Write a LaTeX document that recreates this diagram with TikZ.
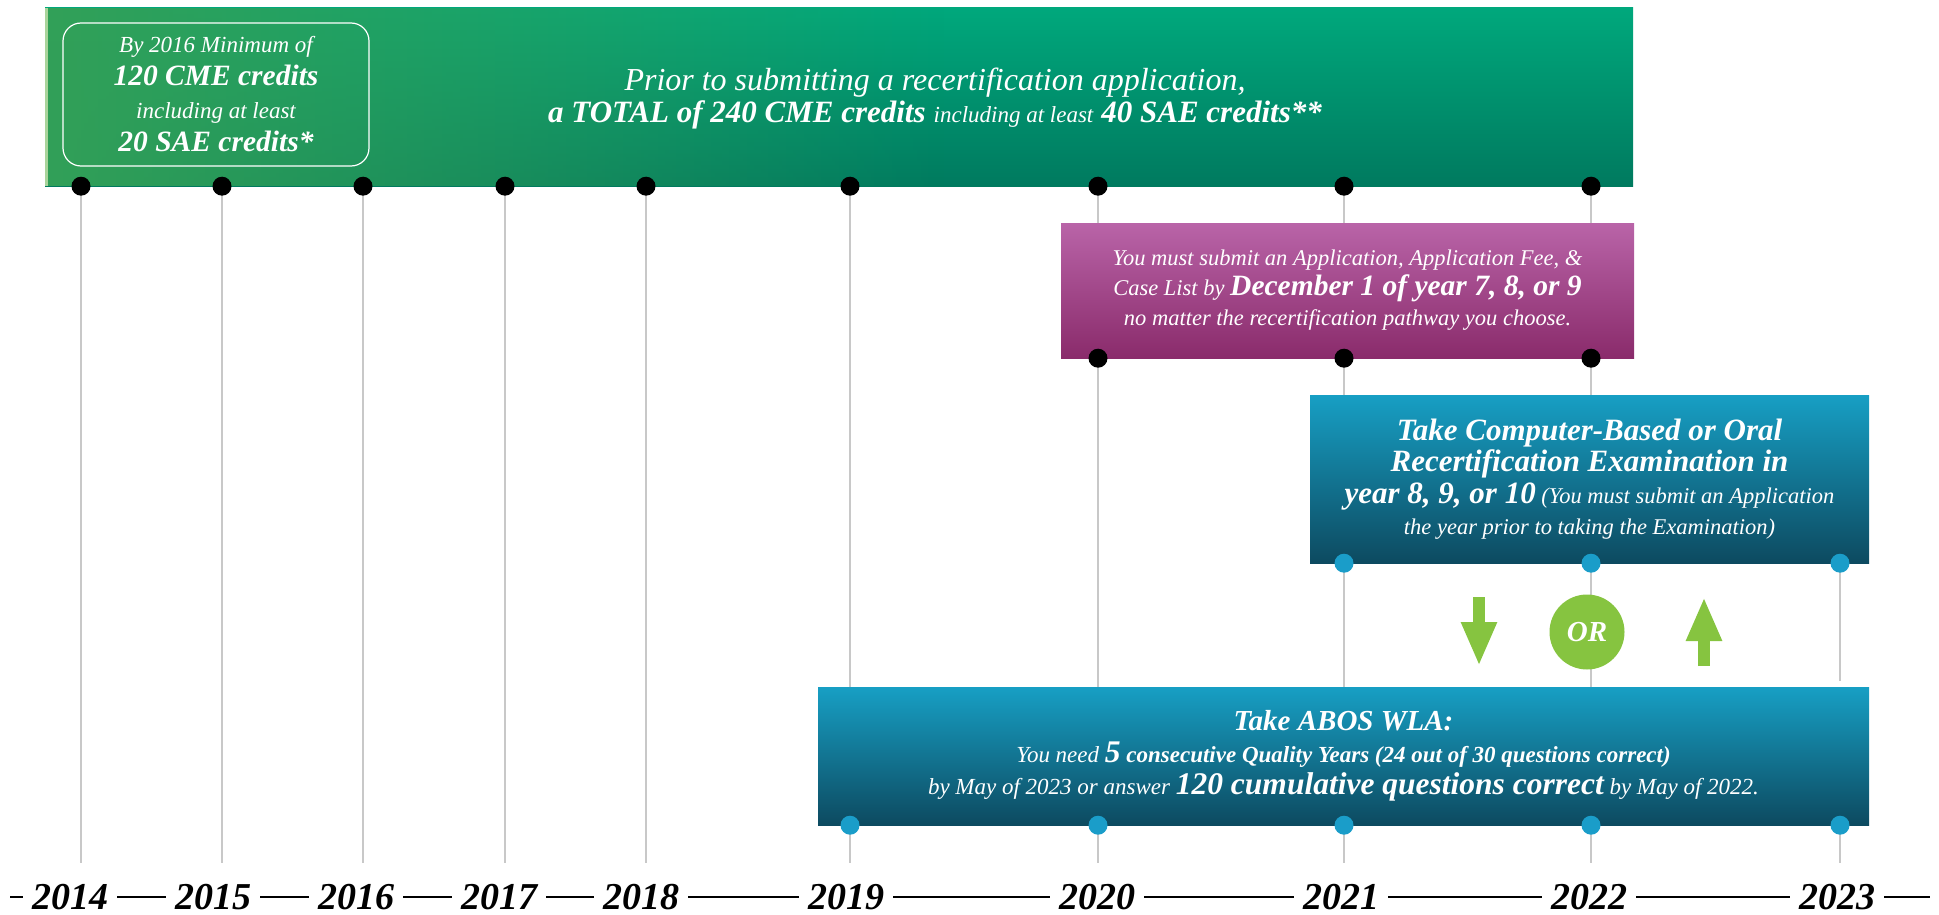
\documentclass[tikz,border=0pt]{standalone}
\usepackage{fontspec}
\setmainfont{Liberation Serif}
\usetikzlibrary{arrows.meta, fadings}

\definecolor{cmeleft}{HTML}{32A058}
\definecolor{cmetop}{HTML}{00A87C}
\definecolor{cmebot}{HTML}{007A5F}
\definecolor{cmestrip}{HTML}{A9D49B}
\definecolor{apptop}{HTML}{B964A8}
\definecolor{appbot}{HTML}{8A2B6B}
\definecolor{examtop}{HTML}{179FC4}
\definecolor{exambot}{HTML}{0D4A60}
\definecolor{orgreen}{HTML}{86C440}
\definecolor{dotblue}{HTML}{1A9DC9}
\definecolor{gridgray}{HTML}{C8C8C8}

\newcommand{\boldpart}[2]{{\fontsize{#1}{#1}\selectfont\bfseries #2}}

\begin{document}
\begin{tikzpicture}
	[x=1pt, y=-1pt,
	 grid/.style={draw=gridgray, line width=2pt},
	 axis/.style={draw=black, line width=2pt},
	 bdot/.style={circle, fill=black, inner sep=0pt, minimum size=19pt},
	 cdot/.style={circle, fill=dotblue, inner sep=0pt, minimum size=19pt},
	 year/.style={anchor=base, inner xsep=9pt, inner ysep=0pt,
	   font=\fontsize{38}{38}\selectfont\bfseries\itshape},
	 panel/.style={inner sep=0pt, text=white, align=center},
	 bigarrow/.style={draw=orgreen, line width=12pt, -{Triangle[length=44pt, width=33pt]}}]
	\useasboundingbox (0,0) rectangle (1939,915);

	% year lines
	\foreach \yr/\x in {2014/81, 2015/222, 2016/363, 2017/505, 2018/646,
	                    2019/850, 2020/1098, 2021/1344, 2022/1591}
		{\coordinate (t\yr) at (\x,185);
		 \coordinate (b\yr) at (\x,863);
		 \draw[grid] (t\yr) -- (b\yr);}
	\coordinate (b2023) at (1840,863);
	\coordinate (m2023) at (1840,681);

	% credits banner
	\node[panel, minimum width=1588pt, minimum height=178pt,
	      top color=cmetop, middle color=cmebot, bottom color=cmebot] (cme) at (839,97) {};
	\fill[cmeleft, path fading=east] (cme.north west) rectangle ([xshift=900pt]cme.south west);
	\fill[cmestrip] (cme.north west) rectangle ([xshift=3pt]cme.south west);
	\node[panel, draw=white, line width=1.2pt, rounded corners=18pt,
	      minimum width=306pt, minimum height=143pt,
	      font=\fontsize{23}{33}\selectfont\itshape] (min) at (216,94.5)
		{By 2016 Minimum of\\ \boldpart{29.5}{120 CME credits}\\
		 including at least\\ \boldpart{29.5}{20 SAE credits*}};
	\node[panel, font=\fontsize{32}{32}\selectfont\itshape] (total) at (935,99)
		{Prior to submitting a recertification application,\\
		 \boldpart{31}{a TOTAL of 240 CME credits}
		 {\fontsize{23}{23}\selectfont including at least}
		 \boldpart{31}{40 SAE credits**}};

	% application
	\node[panel, minimum width=573pt, minimum height=135pt,
	      top color=apptop, bottom color=appbot,
	      font=\fontsize{22.5}{30}\selectfont\itshape] (app) at (1347.5,290.5)
		{You must submit an Application, Application Fee, \&\\
		 Case List by \boldpart{29.5}{December 1 of year 7, 8, or 9}\\
		 no matter the recertification pathway you choose.};

	% examination
	\node[panel, minimum width=559pt, minimum height=168pt,
	      top color=examtop, bottom color=exambot,
	      font=\fontsize{22.5}{31.5}\selectfont\itshape] (exam) at (1589.5,479)
		{\boldpart{31}{Take Computer-Based or Oral}\\
		 \boldpart{31}{Recertification Examination in}\\
		 \boldpart{31}{year 8, 9, or 10} (You must submit an Application\\
		 the year prior to taking the Examination)};

	% WLA
	\node[panel, minimum width=1051pt, minimum height=138pt,
	      top color=examtop, bottom color=exambot,
	      font=\fontsize{23}{32}\selectfont\itshape] (wla) at (1343.5,756)
		{\boldpart{29}{Take ABOS WLA:}\\
		 You need \boldpart{31.5}{5} {\bfseries consecutive Quality Years (24 out of 30 questions correct)}\\
		 by May of 2023 or answer \boldpart{31.5}{120 cumulative questions correct} by May of 2022.};

	\draw[grid] (exam.south -| b2023) -- (m2023);
	\draw[grid] (wla.south -| b2023) -- (b2023);

	% either way
	\coordinate (dnA) at (1479,597);
	\coordinate (dnB) at (1479,666);
	\coordinate (upA) at (1704,666);
	\coordinate (upB) at (1704,597);
	\draw[bigarrow] (dnA) -- (dnB);
	\draw[bigarrow] (upA) -- (upB);
	\node[circle, fill=orgreen, inner sep=0pt, minimum size=75pt, text=white,
	      font=\fontsize{29}{29}\selectfont\bfseries\itshape] (or) at (1587,632) {OR};

	% dots
	\foreach \yr in {2014, 2015, 2016, 2017, 2018, 2019, 2020, 2021, 2022}
		\node[bdot] (c\yr) at (cme.south -| b\yr) {};
	\foreach \yr in {2020, 2021, 2022}
		\node[bdot] (a\yr) at (app.south -| b\yr) {};
	\foreach \yr in {2021, 2022, 2023}
		\node[cdot] (e\yr) at (exam.south -| b\yr) {};
	\foreach \yr in {2019, 2020, 2021, 2022, 2023}
		\node[cdot] (w\yr) at (wla.south -| b\yr) {};

	% time axis
	\node[year] (y2014) at (70,909) {2014};
	\node[year] (y2015) at (213,909) {2015};
	\node[year] (y2016) at (356,909) {2016};
	\node[year] (y2017) at (499,909) {2017};
	\node[year] (y2018) at (641,909) {2018};
	\node[year] (y2019) at (846,909) {2019};
	\node[year] (y2020) at (1097,909) {2020};
	\node[year] (y2021) at (1341,909) {2021};
	\node[year] (y2022) at (1589,909) {2022};
	\node[year] (y2023) at (1837,909) {2023};
	\coordinate (axL) at (10,897);
	\coordinate (axR) at (1930,897);
	\draw[axis] (y2014.west -| axL) -- (y2014.west);
	\draw[axis] (y2014.east) -- (y2015.west);
	\draw[axis] (y2015.east) -- (y2016.west);
	\draw[axis] (y2016.east) -- (y2017.west);
	\draw[axis] (y2017.east) -- (y2018.west);
	\draw[axis] (y2018.east) -- (y2019.west);
	\draw[axis] (y2019.east) -- (y2020.west);
	\draw[axis] (y2020.east) -- (y2021.west);
	\draw[axis] (y2021.east) -- (y2022.west);
	\draw[axis] (y2022.east) -- (y2023.west);
	\draw[axis] (y2023.east) -- (y2023.east -| axR);
\end{tikzpicture}
\end{document}
